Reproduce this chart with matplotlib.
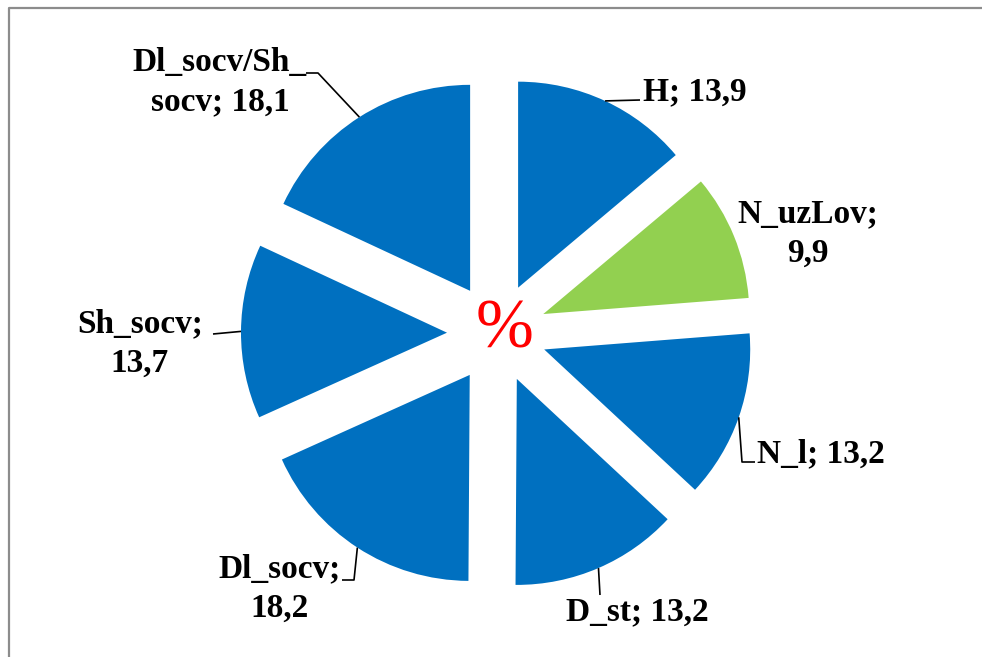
import numpy as np
import matplotlib.pyplot as plt

# slice names and shares (%), clockwise from 12 o'clock
names = ['H', 'N_uzLov', 'N_l', 'D_st', 'Dl_socv', 'Sh_socv', 'Dl_socv/Sh_socv']
values = [13.9, 9.9, 13.2, 13.2, 18.2, 13.7, 18.1]
colors = ['#0070C0', '#92D050', '#0070C0', '#0070C0', '#0070C0', '#0070C0', '#0070C0']

W, H = 982, 657
fig = plt.figure(figsize=(W / 100, H / 100), dpi=100)
ax = fig.add_axes([0, 0, 1, 1])

wedges, _ = ax.pie(values, explode=[50] * len(values), colors=colors,
                   startangle=90, counterclock=False, radius=206,
                   center=(497, H - 333), wedgeprops=dict(linewidth=0))

# label text, how it wraps, where it sits (pixel coords, y from top)
def lab(name, v):
    return f"{name}; {str(v).replace('.', ',')}"

texts = [lab(n, v) for n, v in zip(names, values)]
texts[1] = texts[1].replace('; ', ';\n')
texts[4] = texts[4].replace('; ', ';\n')
texts[5] = texts[5].replace('; ', ';\n')
texts[6] = 'Dl_socv/Sh_\n' + texts[6][len('Dl_socv/Sh_'):]

text_pos = [(643, 100, 'left'), (808, 262, 'center'), (757, 462, 'left'),
            (637, 620, 'center'), (280, 617, 'center'), (140, 372, 'center'),
            (220, 110, 'center')]
leader = [[(640, 100)], None, [(742, 462), (755, 462)], [(600, 595)],
          [(354, 580), (342, 580)], [(213, 334)], [(318, 73), (306, 73)]]

font = dict(family='Liberation Serif', weight='bold', size=24)
for w, t, (tx, ty, ha), path in zip(wedges, texts, text_pos, leader):
    ax.text(tx, H - ty, t, ha=ha, va='baseline', multialignment='center',
            linespacing=1.35, **font)
    if path:
        mid = np.deg2rad((w.theta1 + w.theta2) / 2)
        ax_ = w.center[0] + w.r * np.cos(mid)
        ay_ = w.center[1] + w.r * np.sin(mid)
        xs = [ax_] + [p[0] for p in path]
        ys = [ay_] + [H - p[1] for p in path]
        ax.plot(xs, ys, color='black', lw=1.2, solid_capstyle='butt')

ax.text(505, H - 331, '%', ha='center', va='center', color='red',
        family='Liberation Serif', size=50)

# chart border (only top and left edges are inside the picture)
ax.plot([9.5, 9.5, W + 5], [-5, H - 7.5, H - 7.5], color='#8c8c8c', lw=1.6)

ax.set_xlim(0, W)
ax.set_ylim(0, H)
ax.set_aspect('auto')
ax.axis('off')
fig.savefig('out.png', dpi=100)
